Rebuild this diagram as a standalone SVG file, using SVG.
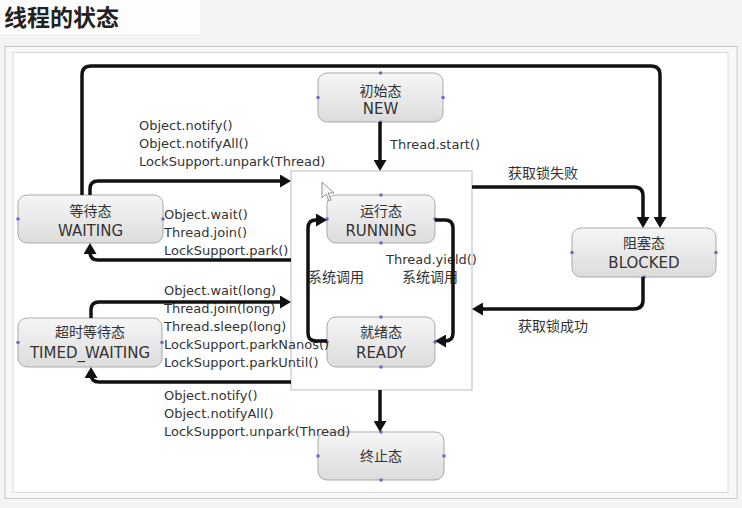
<svg xmlns="http://www.w3.org/2000/svg" width="742" height="508" viewBox="0 0 742 508">
<style>
.lbl{font-family:"DejaVu Sans","Noto Sans CJK SC",sans-serif;font-size:13px;fill:#333}
.cjk{font-family:"Noto Sans CJK SC","DejaVu Sans",sans-serif;font-size:14px;fill:#333}
.nt{font-family:"DejaVu Sans","Noto Sans CJK SC",sans-serif;font-size:15px;fill:#333;text-anchor:middle}
.nc{font-family:"Noto Sans CJK SC","DejaVu Sans",sans-serif;font-size:14px;fill:#333;text-anchor:middle}
.node rect{fill:url(#ng);stroke:#a9a9a9;stroke-width:1}
.node circle{fill:#6c6cc8}
.conn path{fill:none;stroke:#111;stroke-width:3.5;stroke-linejoin:round;marker-end:url(#ah)}
</style>
<defs>
<linearGradient id="ng" x1="0" y1="0" x2="0" y2="1">
<stop offset="0" stop-color="#f6f6f6"/>
<stop offset="1" stop-color="#dcdcdc"/>
</linearGradient>
<marker id="ah" markerUnits="userSpaceOnUse" markerWidth="12" markerHeight="13" refX="7" refY="6.5" orient="auto">
<path d="M0,0 L11,6.5 L0,13 z" fill="#111"/>
</marker>
</defs>
<rect x="0" y="0" width="742" height="508" fill="#f3f3f3"/>
<rect x="0" y="0" width="200" height="34" fill="#fdfdfd"/>
<text x="4" y="26" style="font-family:'Noto Sans CJK SC',sans-serif;font-size:23px;font-weight:bold;fill:#222">线程的状态</text>
<rect x="5" y="46.5" width="732" height="452" fill="#f8f8f8" stroke="#c8c8c8"/>
<rect x="13" y="52.5" width="715" height="440" fill="#ffffff" stroke="#d8d8d8"/>
<rect x="291" y="171" width="181" height="219" fill="#ffffff" stroke="#bcbcbc"/>

<g id="new" class="node">
<rect x="318" y="73" width="125" height="49" rx="9"/>
<text class="nc" x="380.5" y="96">初始态</text>
<text class="nt" x="380.5" y="114">NEW</text>
<circle cx="380.5" cy="73" r="1.8"/><circle cx="318" cy="97.5" r="1.8"/><circle cx="443" cy="97.5" r="1.8"/><circle cx="380.5" cy="122" r="1.8"/>
</g>
<g id="running" class="node">
<rect x="327" y="195" width="108" height="48" rx="9"/>
<text class="nc" x="381" y="216">运行态</text>
<text class="nt" x="381" y="236">RUNNING</text>
<circle cx="381" cy="195" r="1.8"/><circle cx="327" cy="219" r="1.8"/><circle cx="435" cy="219" r="1.8"/><circle cx="381" cy="243" r="1.8"/>
</g>
<g id="ready" class="node">
<rect x="327" y="317" width="108" height="50" rx="9"/>
<text class="nc" x="381" y="337">就绪态</text>
<text class="nt" x="381" y="358">READY</text>
<circle cx="381" cy="317" r="1.8"/><circle cx="327" cy="342" r="1.8"/><circle cx="435" cy="342" r="1.8"/><circle cx="381" cy="367" r="1.8"/>
</g>
<g id="waiting" class="node">
<rect x="18" y="195" width="145" height="48" rx="9"/>
<text class="nc" x="90.5" y="216">等待态</text>
<text class="nt" x="90.5" y="236">WAITING</text>
<circle cx="18" cy="219" r="1.8"/><circle cx="163" cy="219" r="1.8"/>
</g>
<g id="timed_waiting" class="node">
<rect x="18" y="318" width="144" height="49" rx="9"/>
<text class="nc" x="90" y="337">超时等待态</text>
<text class="nt" x="90" y="358">TIMED_WAITING</text>
<circle cx="18" cy="342.5" r="1.8"/><circle cx="162" cy="342.5" r="1.8"/>
</g>
<g id="blocked" class="node">
<rect x="572" y="228" width="144" height="49" rx="9"/>
<text class="nc" x="644" y="248">阻塞态</text>
<text class="nt" x="644" y="268">BLOCKED</text>
<circle cx="572" cy="252.5" r="1.8"/><circle cx="716" cy="252.5" r="1.8"/><circle cx="644" cy="277" r="1.8"/>
</g>
<g id="terminated" class="node">
<rect x="318" y="432" width="126" height="48" rx="9"/>
<text class="nc" x="381" y="461">终止态</text>
<circle cx="381" cy="432" r="1.8"/><circle cx="318" cy="456" r="1.8"/><circle cx="444" cy="456" r="1.8"/><circle cx="381" cy="480" r="1.8"/>
</g>

<g id="labels">
<text class="lbl" x="139" y="130">Object.notify()</text>
<text class="lbl" x="139" y="148">Object.notifyAll()</text>
<text class="lbl" x="139" y="166">LockSupport.unpark(Thread)</text>
<text class="lbl" x="390" y="149">Thread.start()</text>
<text class="lbl" x="164" y="219">Object.wait()</text>
<text class="lbl" x="164" y="237">Thread.join()</text>
<text class="lbl" x="164" y="255">LockSupport.park()</text>
<text class="lbl" x="164" y="295">Object.wait(long)</text>
<text class="lbl" x="164" y="313">Thread.join(long)</text>
<text class="lbl" x="164" y="331">Thread.sleep(long)</text>
<text class="lbl" x="164" y="349">LockSupport.parkNanos()</text>
<text class="lbl" x="164" y="367">LockSupport.parkUntil()</text>
<text class="lbl" x="164" y="400">Object.notify()</text>
<text class="lbl" x="164" y="418">Object.notifyAll()</text>
<text class="lbl" x="164" y="436">LockSupport.unpark(Thread)</text>
<text class="lbl" x="386" y="264">Thread.yield()</text>
<text class="cjk" x="308" y="282">系统调用</text>
<text class="cjk" x="402" y="282">系统调用</text>
<text class="cjk" x="508" y="178">获取锁失败</text>
<text class="cjk" x="518" y="331">获取锁成功</text>
</g>

<g id="connectors" class="conn">
<path d="M380,122 V167"/>
<path d="M380,390 V428"/>
<path d="M82,195 V75 Q82,66 91,66 H651 Q660,66 660,75 V224"/>
<path d="M472,187 H634 Q643,187 643,196 V224"/>
<path d="M643,277 V300 Q643,309 634,309 H476"/>
<path d="M90,195 V189 Q90,181 98,181 H287"/>
<path d="M291,260 H98 Q90,260 90,252 V247"/>
<path d="M91,318 V310 Q91,302 99,302 H287"/>
<path d="M291,382 H99 Q91,382 91,374 V371"/>
<path d="M327,341 H316 Q308,341 308,333 V228 Q308,220 316,220 H323"/>
<path d="M435,220 H445 Q453,220 453,228 V333 Q453,341 445,341 H439"/>
</g>
<path d="M322,182 L322,198 L326,194 L329,201 L331,200 L328,193 L334,193 Z" fill="#fafafa" stroke="#777" stroke-width="0.8"/>
</svg>
